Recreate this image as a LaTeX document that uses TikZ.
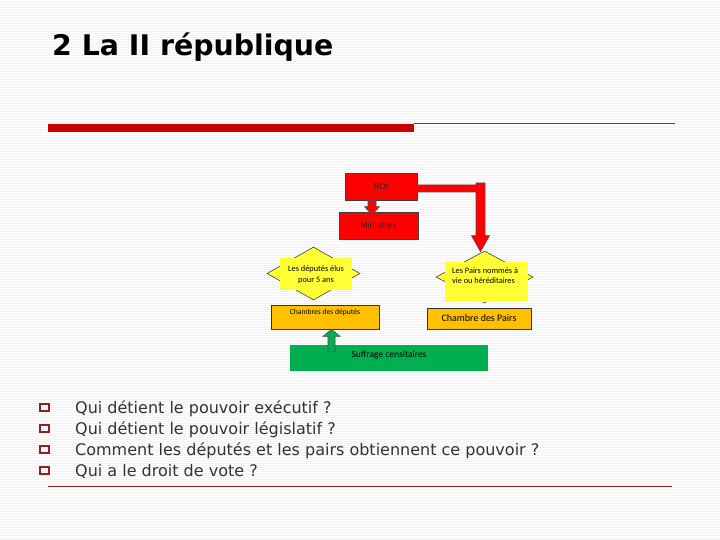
\documentclass[tikz,border=0pt]{standalone}
\usepackage{fontspec}
\setmainfont{DejaVu Sans}
\newfontfamily\carl{Carlito}
\usetikzlibrary{shapes.geometric,calc}
\definecolor{rouge}{HTML}{FF0000}
\definecolor{barred}{HTML}{CC0000}
\definecolor{darkred}{HTML}{8B2323}
\definecolor{jaune}{HTML}{FFFF33}
\definecolor{orangebox}{HTML}{FFC000}
\definecolor{vert}{HTML}{00B050}
\tikzset{
  redbox/.style={draw=black!75, line width=0.6pt, fill=rouge, inner sep=0pt, font=\fontsize{8}{8}\selectfont, text=black!85},
  diabox/.style={diamond, draw=black!75, line width=0.6pt, fill=jaune, inner sep=0pt},
  yelrect/.style={fill=jaune, inner sep=0pt},
  orbox/.style={draw=black!80, line width=0.6pt, fill=orangebox, inner sep=0pt},
  smalltxt/.style={font=\carl\fontsize{8.3}{10.5}\selectfont, inner sep=0pt, text=black},
  barrow/.style={draw=black!70, line width=0.6pt, fill=rouge},
  garrow/.style={draw=black!70, line width=0.6pt, fill=vert},
  bulletbox/.style={draw=darkred, line width=1.6pt, minimum width=9.5pt, minimum height=7.5pt, inner sep=0pt},
  question/.style={anchor=base west, font=\fontsize{16}{16}\selectfont, text=black!80, inner sep=0pt}
}
\begin{document}
\begin{tikzpicture}[x=1pt,y=-1pt]
\useasboundingbox (0,0) rectangle (720,540);
\fill[white] (0,0) rectangle (720,540);
\foreach \i in {1,3,...,539} \draw[black!5,line width=0.5pt] (0,\i) -- (720,\i);

% title
\node[anchor=base west, font=\bfseries\fontsize{28.4}{28.4}\selectfont, inner sep=0pt] (title) at (52,56) {2 La II république};
\fill[barred] (48,124) rectangle (414,132);
\draw[darkred, line width=0.8pt] (414,123.5) -- (675,123.5);

% boxes
\node[redbox, minimum width=72pt, minimum height=27pt] (roi) at (381,186.5) {ROI};
\node[redbox, minimum width=79pt, minimum height=27pt] (min) at (378.5,225.5) {Ministres};

\node[diabox, minimum width=93pt, minimum height=53pt] (ldia) at (313.5,273.5) {};
\node[yelrect, minimum width=72pt, minimum height=32pt] (lrect) at (316,274) {};
\node[smalltxt, align=center] (ltxt) at (316,275) {Les députés élus\\pour 5 ans};

\node[diabox, minimum width=97pt, minimum height=52pt] (rdia) at (484.5,277) {};
\node[yelrect, minimum width=83pt, minimum height=40pt] (rrect) at (486.5,282) {};
\node[smalltxt, align=left, anchor=west] (rtxt) at (452,275.5) {Les Pairs nommés à\\vie ou héréditaires};

\node[orbox, minimum width=108pt, minimum height=24pt] (chd) at (325,317) {};
\node[smalltxt, font=\carl\fontsize{7.6}{9}\selectfont] (chdtxt) at ($(chd.north)+(0,8)$) {Chambres des députés};

\node[orbox, minimum width=104pt, minimum height=21pt, font=\carl\fontsize{10}{10}\selectfont] (chp) at (479,318.5) {Chambre des Pairs};

\node[fill=vert, minimum width=198pt, minimum height=26pt, inner sep=0pt] (suf) at (389,358) {};
\node[font=\carl\fontsize{9.5}{9.5}\selectfont, inner sep=0pt] (suftxt) at (389,355) {Suffrage censitaires};

% arrows
\coordinate (a1s) at ($(roi.south)+(-9,0)$);
\coordinate (a1t) at ($(min.north)+(-6.5,3)$);
\draw[barrow] let \p1=(a1s), \p2=(a1t) in
  (\x1-4pt,\y1) -- (\x1-4pt,\y2+8pt) -- (\x1-7.5pt,\y2+8pt) -- (\x1,\y2)
  -- (\x1+7.5pt,\y2+8pt) -- (\x1+4pt,\y2+8pt) -- (\x1+4pt,\y1) -- cycle;

\coordinate (bs) at (roi.east);
\coordinate (bt) at ($(rdia.north)+(-4,1)$);
\draw[barrow] let \p1=(bs), \p2=(bt) in
  (\x1,\y1+1.5pt) -- (\x2-4.5pt,\y1+1.5pt) -- (\x2-4.5pt,\y1+3.5pt) -- (\x2+4.5pt,\y1+3.5pt)
  -- (\x2+4.5pt,\y2+16pt) -- (\x2+9pt,\y2+16pt) -- (\x2,\y2) -- (\x2-9pt,\y2+16pt)
  -- (\x2-4.5pt,\y2+16pt) -- (\x2-4.5pt,\y1-5.5pt) -- (\x1,\y1-5.5pt) -- cycle;

\coordinate (gs) at ($(suf.north)+(-57.5,7)$);
\coordinate (gt) at ($(chd.south)+(6.5,0)$);
\draw[garrow] let \p1=(gs), \p2=(gt) in
  (\x1-3.5pt,\y1) -- (\x1-3.5pt,\y2-7pt) -- (\x1-8.5pt,\y2-7pt) -- (\x1,\y2)
  -- (\x1+8.5pt,\y2-7pt) -- (\x1+3.5pt,\y2-7pt) -- (\x1+3.5pt,\y1) -- cycle;

% questions
\foreach \yy/\t [count=\i] in {407.5/Qui détient le pouvoir exécutif ?,
  428.5/Qui détient le pouvoir législatif ?,
  449.5/Comment les députés et les pairs obtiennent ce pouvoir ?,
  470.5/Qui a le droit de vote ?}{
  \node[bulletbox] (b\i) at (44.5,\yy) {};
  \node[question] (q\i) at (75,\yy+6) {\t};
}
\draw[darkred, line width=0.8pt] (48,486) -- (672,486);
\end{tikzpicture}
\end{document}
